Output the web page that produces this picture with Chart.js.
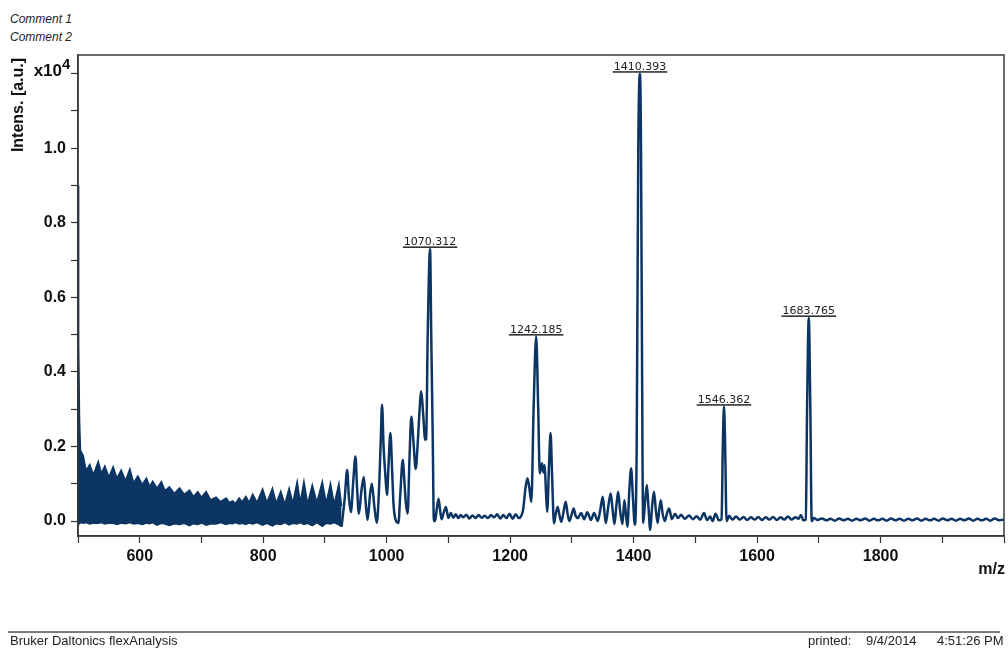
<!DOCTYPE html>
<html>
<head>
<meta charset="utf-8">
<title>flexAnalysis spectrum</title>
<script src="https://cdn.jsdelivr.net/npm/chart.js@4.4.0/dist/chart.umd.min.js"></script>
<style>
    body { margin: 0; background: #fff; }
    #wrap { position: relative; width: 1008px; height: 648px; overflow: hidden; }
    #spectrum { position: absolute; left: 0; top: 0; }
    .note { position: absolute; font-family: "Liberation Sans", Arial, sans-serif; color: #222; white-space: nowrap; line-height: 1; }
    .comment { font-size: 12px; font-style: italic; left: 10px; }
    .footer { font-size: 13px; top: 634px; }
    #footerLine { position: absolute; left: 8px; top: 631px; width: 992px; height: 2px; background: #7a7a7a; }
</style>
</head>
<body>
<div id="wrap">
    <div class="note comment" style="top:13px">Comment 1</div>
    <div class="note comment" style="top:31px">Comment 2</div>
    <canvas id="spectrum" width="1008" height="648"></canvas>
    <div id="footerLine"></div>
    <div class="note footer" style="left:10px">Bruker Daltonics flexAnalysis</div>
    <div class="note footer" style="left:808px">printed:</div>
    <div class="note footer" style="left:866px">9/4/2014</div>
    <div class="note footer" style="left:937px">4:51:26 PM</div>
</div>
<script>
// Intensities are in units of 10^4 a.u.

// Dense low-mass noise region (drawn as a filled band between its envelopes)
const bandMz = [500, 501, 502.5, 504, 508.6, 513, 519, 525, 532.8, 538, 543.5, 550, 557, 563, 570, 577,
    584, 590, 597, 604, 611, 616, 621, 628, 635, 641, 648, 656, 664.5, 672, 680.6, 687, 694, 700,
    707.5, 715, 723.7, 731, 740, 745, 750.5, 755, 761, 766, 772, 777, 783, 790, 799, 806, 815, 821,
    828.5, 835, 842, 848, 855, 860, 866, 872, 879.5, 887, 895.7, 902, 909, 915, 922.6, 927];
const bandTop = [0.90, 0.48, 0.27, 0.19, 0.175, 0.135, 0.152, 0.125, 0.16, 0.128, 0.148, 0.118, 0.146, 0.115, 0.137, 0.108,
    0.14, 0.103, 0.121, 0.098, 0.115, 0.093, 0.107, 0.088, 0.106, 0.082, 0.092, 0.074, 0.089, 0.072, 0.083, 0.066, 0.079, 0.064,
    0.079, 0.057, 0.064, 0.052, 0.062, 0.05, 0.054, 0.047, 0.062, 0.052, 0.066, 0.05, 0.072, 0.05, 0.086, 0.05, 0.088, 0.048,
    0.08, 0.045, 0.088, 0.048, 0.106, 0.05, 0.106, 0.046, 0.097, 0.05, 0.106, 0.048, 0.101, 0.045, 0.101, 0.04];
const bandBottom = [0.0, -0.004, -0.006, -0.004, -0.006, -0.004, -0.008, -0.005, -0.006, -0.004, -0.008, -0.005, -0.006, -0.009, -0.005, -0.007,
    -0.004, -0.008, -0.006, -0.009, -0.005, -0.007, -0.004, -0.011, -0.006, -0.008, -0.012, -0.007, -0.009, -0.006, -0.012, -0.007, -0.009, -0.005,
    -0.011, -0.007, -0.008, -0.004, -0.009, -0.006, -0.007, -0.004, -0.008, -0.006, -0.009, -0.005, -0.008, -0.004, -0.011, -0.006, -0.013, -0.007,
    -0.009, -0.004, -0.01, -0.006, -0.008, -0.004, -0.009, -0.006, -0.012, -0.004, -0.014, -0.006, -0.008, -0.004, -0.01, -0.015];

// Resolved part of the trace
const traceMz = [927, 932, 936, 939, 942, 946, 949.5, 952, 955, 959, 963, 966, 969, 973, 976, 980, 984, 988, 990.5, 992.5,
    995, 998, 1000.5, 1003, 1006, 1009, 1011, 1014.5, 1019, 1022, 1026, 1029, 1031, 1034, 1037, 1040, 1043.5, 1047, 1050, 1052,
    1056, 1059, 1062.4, 1064, 1066.5, 1070.312, 1072.2, 1074.5, 1076.5, 1078.5, 1081, 1084, 1086.5, 1089, 1092, 1096, 1100, 1104, 1108, 1112,
    1116, 1120, 1124, 1129, 1134, 1139, 1144, 1149, 1154, 1159, 1164, 1169, 1174, 1179, 1184, 1189, 1194, 1199, 1204, 1209,
    1214, 1218, 1221, 1225, 1228, 1231, 1234.4, 1238, 1242.185, 1245.5, 1248, 1251.6, 1254, 1256, 1258, 1260, 1263, 1265.5, 1268, 1271,
    1274, 1277, 1280, 1283, 1287, 1290, 1293, 1296, 1300, 1303, 1306, 1309.7, 1315, 1320, 1325, 1331, 1336, 1342, 1346, 1350,
    1353, 1355, 1359, 1363, 1366, 1369, 1372, 1375, 1378, 1382, 1385, 1387.5, 1390, 1393, 1396, 1399, 1402, 1405, 1407.6, 1410.393,
    1412, 1414.5, 1415.6, 1418.5, 1421.5, 1424, 1427, 1430, 1433, 1436, 1439, 1441.5, 1444, 1447, 1450.5, 1454, 1457.5, 1462, 1467, 1472,
    1477, 1483, 1490, 1496, 1502, 1508, 1514, 1519, 1524, 1528, 1532.7, 1538, 1542.5, 1544.5, 1546.362, 1548.3, 1550.5, 1555, 1560, 1566,
    1572, 1578, 1584, 1590, 1596, 1602, 1608, 1614, 1620, 1626, 1632, 1638, 1644, 1650, 1656, 1662, 1667, 1671, 1675, 1679,
    1681, 1683.765, 1686.3, 1688.5, 1692, 1698, 1705, 1712, 1719, 1726, 1733, 1740, 1747, 1754, 1761, 1768, 1775, 1782, 1789, 1796,
    1803, 1810, 1817, 1824, 1831, 1838, 1845, 1852, 1859, 1866, 1873, 1880, 1887, 1894, 1901, 1908, 1915, 1922, 1929, 1936,
    1943, 1950, 1957, 1964, 1971, 1978, 1985, 1992, 2000];
const traceIntensity = [-0.015, 0.06, 0.137, 0.06, 0.024, 0.11, 0.173, 0.09, 0.02, 0.08, 0.118, 0.05, 0.003, 0.07, 0.10, 0.04, -0.005, 0.10, 0.22, 0.312,
    0.20, 0.12, 0.07, 0.15, 0.236, 0.13, 0.048, 0.003, -0.005, 0.07, 0.164, 0.10, 0.05, 0.02, 0.17, 0.28, 0.21, 0.14, 0.20, 0.26,
    0.348, 0.29, 0.218, 0.22, 0.50, 0.73, 0.50, 0.24, 0.0, 0.0, 0.03, 0.06, 0.03, 0.005, 0.02, 0.038, 0.008, 0.022, 0.009, 0.018,
    0.008, 0.016, 0.01, 0.017, 0.007, 0.015, 0.008, 0.016, 0.009, 0.014, 0.008, 0.016, 0.01, 0.018, 0.007, 0.016, 0.008, 0.02, 0.006, 0.018,
    0.008, 0.014, 0.03, 0.09, 0.115, 0.09, 0.052, 0.30, 0.495, 0.30, 0.128, 0.155, 0.13, 0.15, 0.08, 0.025, 0.15, 0.236, 0.12, -0.006,
    0.02, 0.038, 0.015, -0.002, 0.03, 0.052, 0.02, 0.0, 0.02, 0.034, 0.015, 0.008, 0.022, 0.005, 0.024, 0.003, 0.022, 0.0, 0.03, 0.065,
    0.02, -0.005, 0.04, 0.074, 0.03, -0.008, 0.04, 0.079, 0.03, -0.008, 0.056, 0.02, -0.015, 0.08, 0.142, 0.06, -0.01, 0.20, 1.0, 1.2,
    1.0, 0.15, -0.005, 0.05, 0.097, 0.04, -0.024, 0.04, 0.079, 0.03, -0.005, 0.03, 0.056, 0.02, 0.0, 0.02, 0.034, 0.005, 0.02, 0.008,
    0.017, 0.006, 0.015, 0.005, 0.013, 0.004, 0.022, 0.003, 0.012, 0.0, 0.02, 0.002, 0.005, 0.20, 0.307, 0.20, 0.0, 0.014, 0.004, 0.012,
    0.004, 0.011, 0.003, 0.01, 0.004, 0.011, 0.003, 0.01, 0.004, 0.011, 0.003, 0.01, 0.004, 0.012, 0.004, 0.01, 0.006, 0.016, 0.002, 0.004,
    0.30, 0.545, 0.30, 0.0, 0.008, 0.003, 0.007, 0.002, 0.006, 0.001, 0.007, 0.002, 0.006, 0.001, 0.006, 0.002, 0.007, 0.001, 0.006, 0.002,
    0.006, 0.001, 0.007, 0.002, 0.006, 0.001, 0.006, 0.002, 0.007, 0.001, 0.006, 0.002, 0.006, 0.001, 0.007, 0.002, 0.006, 0.001, 0.006, 0.002,
    0.007, 0.001, 0.006, 0.002, 0.006, 0.001, 0.007, 0.002, 0.004];

// Annotated peaks
const peakMz = [1070.312, 1242.185, 1410.393, 1546.362, 1683.765];
const peakIntensity = [0.73, 0.495, 1.2, 0.307, 0.545];
const peakLabels = ['1070.312', '1242.185', '1410.393', '1546.362', '1683.765'];

// Axis ticks
const xTickValues = [500, 600, 700, 800, 900, 1000, 1100, 1200, 1300, 1400, 1500, 1600, 1700, 1800, 1900, 2000];
const xTickLabels = ['', '600', '', '800', '', '1000', '', '1200', '', '1400', '', '1600', '', '1800', '', ''];
const yTickValues = [0, 0.1, 0.2, 0.3, 0.4, 0.5, 0.6, 0.7, 0.8, 0.9, 1.0, 1.1, 1.2];
const yTickLabels = ['0.0', '', '0.2', '', '0.4', '', '0.6', '', '0.8', '', '1.0', '', ''];

const lineColor = '#0c3563';
const axisColor = '#333';
const fontFamily = '"Liberation Sans", Arial, sans-serif';

// Frame, peak labels, axis titles
const spectrumDecor = {
    id: 'spectrumDecor',
    afterDatasetsDraw(chart) {
        const { ctx, chartArea, scales } = chart;
        ctx.save();

        ctx.strokeStyle = '#3a3a3a';
        ctx.lineWidth = 1.5;
        ctx.strokeRect(chartArea.left, chartArea.top, chartArea.right - chartArea.left, chartArea.bottom - chartArea.top);

        ctx.font = '11px "DejaVu Sans", Verdana, sans-serif';
        ctx.textAlign = 'center';
        ctx.textBaseline = 'alphabetic';
        peakMz.forEach((mz, i) => {
            const px = scales.x.getPixelForValue(mz);
            const py = scales.y.getPixelForValue(peakIntensity[i]);
            const w = ctx.measureText(peakLabels[i]).width;
            ctx.fillStyle = '#222';
            ctx.fillText(peakLabels[i], px, py - 4);
            ctx.fillStyle = '#333';
            ctx.fillRect(px - w / 2 - 1, py - 2.5, w + 2, 1.6);
        });

        // exponent written at the 1.2 tick
        const yExp = scales.y.getPixelForValue(1.2);
        ctx.fillStyle = '#111';
        ctx.font = 'bold 17px ' + fontFamily;
        ctx.textAlign = 'right';
        ctx.fillText('x10', 62, yExp + 2);
        ctx.font = 'bold 15px ' + fontFamily;
        ctx.textAlign = 'left';
        ctx.fillText('4', 62, yExp - 5);

        ctx.font = 'bold 16px ' + fontFamily;
        ctx.textAlign = 'right';
        ctx.fillText('m/z', 1005, 574);

        ctx.translate(19, 105);
        ctx.rotate(-Math.PI / 2);
        ctx.textAlign = 'center';
        ctx.textBaseline = 'middle';
        ctx.fillText('Intens. [a.u.]', 0, 0);

        ctx.restore();
    }
};

const toPoints = (xs, ys) => xs.map((x, i) => ({ x: x, y: ys[i] }));

const tickFont = { family: fontFamily, size: 16, weight: 'bold' };

new Chart(document.getElementById('spectrum'), {
    type: 'line',
    data: {
        datasets: [
            {
                data: toPoints(bandMz, bandTop),
                borderColor: lineColor,
                backgroundColor: lineColor,
                borderWidth: 1.5,
                fill: '+1',
                pointRadius: 0,
                tension: 0
            },
            {
                data: toPoints(bandMz, bandBottom),
                borderColor: lineColor,
                borderWidth: 1.5,
                fill: false,
                pointRadius: 0,
                tension: 0
            },
            {
                data: toPoints(traceMz, traceIntensity),
                borderColor: lineColor,
                borderWidth: 2.5,
                fill: false,
                pointRadius: 0,
                cubicInterpolationMode: 'monotone'
            }
        ]
    },
    options: {
        responsive: false,
        animation: false,
        layout: { padding: { top: 55, right: 2, bottom: 0, left: 0 } },
        plugins: {
            legend: { display: false },
            tooltip: { enabled: false }
        },
        scales: {
            x: {
                type: 'linear',
                min: 500,
                max: 2000,
                afterBuildTicks: (scale) => { scale.ticks = xTickValues.map(v => ({ value: v })); },
                afterFit: (scale) => { scale.height = 112; },
                ticks: {
                    callback: (value, index) => xTickLabels[index],
                    autoSkip: false,
                    maxRotation: 0,
                    font: tickFont,
                    color: '#111',
                    padding: 4
                },
                grid: { drawOnChartArea: false, tickLength: 7, color: axisColor, tickWidth: 1.2 },
                border: { color: axisColor, width: 1.5 }
            },
            y: {
                type: 'linear',
                min: -0.04,
                max: 1.25,
                afterBuildTicks: (scale) => { scale.ticks = yTickValues.map(v => ({ value: v })); },
                afterFit: (scale) => { scale.width = 78; },
                ticks: {
                    callback: (value, index) => yTickLabels[index],
                    autoSkip: false,
                    font: tickFont,
                    color: '#111',
                    padding: 5
                },
                grid: { drawOnChartArea: false, tickLength: 7, color: axisColor, tickWidth: 1.2 },
                border: { color: axisColor, width: 1.5 }
            }
        }
    },
    plugins: [spectrumDecor]
});
</script>
</body>
</html>
